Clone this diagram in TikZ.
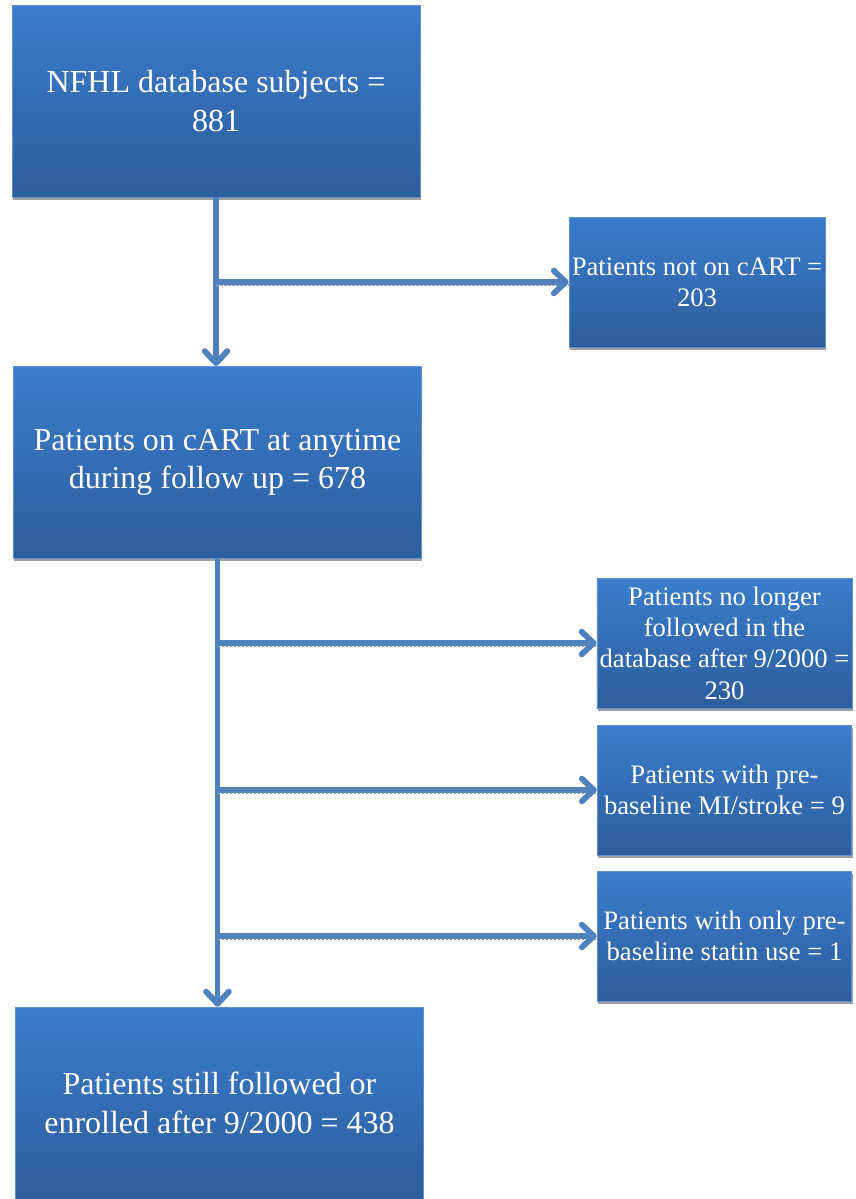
\documentclass[tikz,border=0pt]{standalone}
\usepackage{fontspec}
\setmainfont{Liberation Serif}
\usepackage{xcolor}
\definecolor{boxtop}{HTML}{3A7DCC}
\definecolor{boxbot}{HTML}{2D5D9C}
\definecolor{boxrim}{HTML}{5E90D2}
\definecolor{flow}{HTML}{4F81BD}
\usetikzlibrary{positioning,calc,arrows.meta,shadows}

\tikzset{
  stage/.style={rectangle,top color=boxtop,bottom color=boxbot,draw=boxrim,line width=0.6pt,
    text=white,align=center,inner sep=2pt,
    drop shadow={shadow xshift=0.6pt,shadow yshift=-2pt,fill=gray!75,opacity=1}},
  bigstage/.style={stage,minimum width=306pt,minimum height=144pt,font=\fontsize{24}{29}\selectfont},
  sidestage/.style={stage,minimum width=191pt,minimum height=97.5pt,font=\fontsize{20}{23.5}\selectfont},
  arr/.style={draw=flow,line width=4.4pt,-{Straight Barb[length=9pt,width=17pt,round]}},
  sidearr/.style={arr,preaction={draw=gray!75,densely dotted,line width=2pt,-,
    transform canvas={yshift=-2.2pt}}}
}

\begin{document}
\begin{tikzpicture}[x=0.75pt,y=-0.75pt]
  \useasboundingbox (0,0) rectangle (856,1199);
  % main column
  \node[bigstage] (nfhl)   at (216,101)    {NFHL database subjects =\\881};
  \node[bigstage] (oncart) at (217.5,462.5) {Patients on cART at anytime\\during follow up = 678};
  \node[bigstage] (final)  at (219.5,1103) {Patients still followed or\\enrolled after 9/2000 = 438};
  % excluded
  \node[sidestage] (notcart)  at (697,282)   {Patients not on cART =\\203};
  \node[sidestage] (nolonger) at (724.5,643) {Patients no longer\\followed in the\\database after 9/2000 =\\230};
  \node[sidestage] (prebase)  at (724.5,790) {Patients with pre-\\baseline MI/stroke = 9};
  \node[sidestage] (statin)   at (724.5,936) {Patients with only pre-\\baseline statin use = 1};

  \draw[arr] (nfhl.south) -- (nfhl.south |- oncart.north);
  \draw[sidearr] (nfhl.south |- notcart.west) -- (notcart.west);
  \draw[arr] (oncart.south) -- (oncart.south |- final.north);
  \foreach \out in {nolonger,prebase,statin}
    \draw[sidearr] (oncart.south |- \out.west) -- (\out.west);
\end{tikzpicture}
\end{document}
